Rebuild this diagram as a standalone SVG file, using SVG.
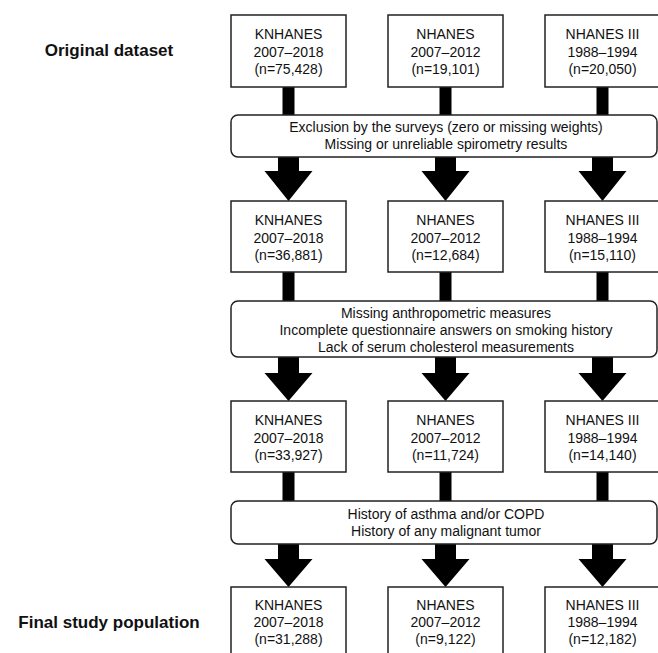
<svg xmlns="http://www.w3.org/2000/svg" width="658" height="653" viewBox="0 0 658 653">
<style>
  .box { fill: #fff; stroke: #222; stroke-width: 1.5; }
  .rbox { fill: #fff; stroke: #222; stroke-width: 1.5; }
  .t { font-family: "Liberation Sans", Arial, sans-serif; font-size: 14px; fill: #111; text-anchor: middle; }
  .lbl { font-family: "Liberation Sans", Arial, sans-serif; font-size: 17px; font-weight: bold; fill: #111; text-anchor: middle; }
  .conn { fill: #000; stroke: none; }
</style>
<rect width="658" height="653" fill="#fff"/>

<g id="labels">
  <text class="lbl" x="109" y="56">Original dataset</text>
  <text class="lbl" x="109" y="628">Final study population</text>
</g>

<g id="connectors">
  <!-- stems row1 -> exclusion1 -->
  <rect class="conn" x="282.5" y="86" width="12" height="30"/>
  <rect class="conn" x="439.5" y="86" width="12" height="30"/>
  <rect class="conn" x="596.5" y="86" width="12" height="30"/>
  <!-- arrows exclusion1 -> row2 -->
  <polygon class="conn" points="278,156 299,156 299,171 312.5,171 288.5,201 264.5,171 278,171"/>
  <polygon class="conn" points="435,156 456,156 456,171 469.5,171 445.5,201 421.5,171 435,171"/>
  <polygon class="conn" points="592,156 613,156 613,171 626.5,171 602.5,201 578.5,171 592,171"/>
  <!-- stems row2 -> exclusion2 -->
  <rect class="conn" x="282.5" y="272" width="12" height="30"/>
  <rect class="conn" x="439.5" y="272" width="12" height="30"/>
  <rect class="conn" x="596.5" y="272" width="12" height="30"/>
  <!-- arrows exclusion2 -> row3 -->
  <polygon class="conn" points="278,356 299,356 299,373 312.5,373 288.5,401 264.5,373 278,373"/>
  <polygon class="conn" points="435,356 456,356 456,373 469.5,373 445.5,401 421.5,373 435,373"/>
  <polygon class="conn" points="592,356 613,356 613,373 626.5,373 602.5,401 578.5,373 592,373"/>
  <!-- stems row3 -> exclusion3 -->
  <rect class="conn" x="282.5" y="472" width="12" height="30"/>
  <rect class="conn" x="439.5" y="472" width="12" height="30"/>
  <rect class="conn" x="596.5" y="472" width="12" height="30"/>
  <!-- arrows exclusion3 -> row4 -->
  <polygon class="conn" points="278,543 299,543 299,559 312.5,559 288.5,587 264.5,559 278,559"/>
  <polygon class="conn" points="435,543 456,543 456,559 469.5,559 445.5,587 421.5,559 435,559"/>
  <polygon class="conn" points="592,543 613,543 613,559 626.5,559 602.5,587 578.5,559 592,559"/>
</g>

<!-- Row 1 -->
<g id="k1"><rect class="box" x="231" y="15" width="115" height="72"/>
  <text class="t" x="288.5" y="39">KNHANES</text><text class="t" x="288.5" y="57">2007–2018</text><text class="t" x="288.5" y="74">(n=75,428)</text></g>
<g id="n1"><rect class="box" x="388" y="15" width="115" height="72"/>
  <text class="t" x="445.5" y="39">NHANES</text><text class="t" x="445.5" y="57">2007–2012</text><text class="t" x="445.5" y="74">(n=19,101)</text></g>
<g id="h1"><rect class="box" x="545" y="15" width="115" height="72"/>
  <text class="t" x="602.5" y="39">NHANES III</text><text class="t" x="602.5" y="57">1988–1994</text><text class="t" x="602.5" y="74">(n=20,050)</text></g>

<g id="ex1"><rect class="rbox" x="231" y="115" width="426" height="42" rx="7"/>
  <text class="t" x="446" y="132">Exclusion by the surveys (zero or missing weights)</text>
  <text class="t" x="446" y="149">Missing or unreliable spirometry results</text></g>

<!-- Row 2 -->
<g id="k2"><rect class="box" x="231" y="201" width="115" height="71"/>
  <text class="t" x="288.5" y="225">KNHANES</text><text class="t" x="288.5" y="243">2007–2018</text><text class="t" x="288.5" y="260">(n=36,881)</text></g>
<g id="n2"><rect class="box" x="388" y="201" width="115" height="71"/>
  <text class="t" x="445.5" y="225">NHANES</text><text class="t" x="445.5" y="243">2007–2012</text><text class="t" x="445.5" y="260">(n=12,684)</text></g>
<g id="h2"><rect class="box" x="545" y="201" width="115" height="71"/>
  <text class="t" x="602.5" y="225">NHANES III</text><text class="t" x="602.5" y="243">1988–1994</text><text class="t" x="602.5" y="260">(n=15,110)</text></g>

<g id="ex2"><rect class="rbox" x="231" y="301" width="426" height="56" rx="7"/>
  <text class="t" x="446" y="318">Missing anthropometric measures</text>
  <text class="t" x="446" y="335">Incomplete questionnaire answers on smoking history</text>
  <text class="t" x="446" y="352">Lack of serum cholesterol measurements</text></g>

<!-- Row 3 -->
<g id="k3"><rect class="box" x="231" y="401" width="115" height="71"/>
  <text class="t" x="288.5" y="425">KNHANES</text><text class="t" x="288.5" y="443">2007–2018</text><text class="t" x="288.5" y="460">(n=33,927)</text></g>
<g id="n3"><rect class="box" x="388" y="401" width="115" height="71"/>
  <text class="t" x="445.5" y="425">NHANES</text><text class="t" x="445.5" y="443">2007–2012</text><text class="t" x="445.5" y="460">(n=11,724)</text></g>
<g id="h3"><rect class="box" x="545" y="401" width="115" height="71"/>
  <text class="t" x="602.5" y="425">NHANES III</text><text class="t" x="602.5" y="443">1988–1994</text><text class="t" x="602.5" y="460">(n=14,140)</text></g>

<g id="ex3"><rect class="rbox" x="231" y="501" width="426" height="43" rx="7"/>
  <text class="t" x="446" y="519">History of asthma and/or COPD</text>
  <text class="t" x="446" y="536">History of any malignant tumor</text></g>

<!-- Row 4 -->
<g id="k4"><rect class="box" x="231" y="587" width="115" height="72"/>
  <text class="t" x="288.5" y="610">KNHANES</text><text class="t" x="288.5" y="627">2007–2018</text><text class="t" x="288.5" y="644">(n=31,288)</text></g>
<g id="n4"><rect class="box" x="388" y="587" width="115" height="72"/>
  <text class="t" x="445.5" y="610">NHANES</text><text class="t" x="445.5" y="627">2007–2012</text><text class="t" x="445.5" y="644">(n=9,122)</text></g>
<g id="h4"><rect class="box" x="545" y="587" width="115" height="72"/>
  <text class="t" x="602.5" y="610">NHANES III</text><text class="t" x="602.5" y="627">1988–1994</text><text class="t" x="602.5" y="644">(n=12,182)</text></g>
</svg>
